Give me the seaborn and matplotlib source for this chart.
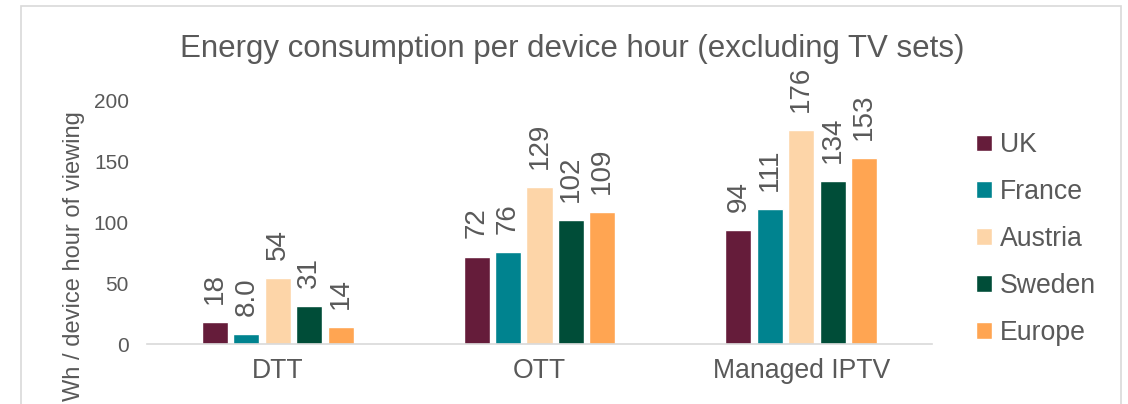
import numpy as np
import pandas as pd
import matplotlib.pyplot as plt
import matplotlib.patches as patches
import seaborn as sns

technologies = ['DTT', 'OTT', 'Managed IPTV']
regions = ['UK', 'France', 'Austria', 'Sweden', 'Europe']
values = {
    'UK':      [18, 72, 94],
    'France':  [8.0, 76, 111],
    'Austria': [54, 129, 176],
    'Sweden':  [31, 102, 134],
    'Europe':  [14, 109, 153],
}
colors = ['#651C3A', '#00838F', '#FDD5A8', '#004D38', '#FFA552']

rows = []
for r in regions:
    for t, v in zip(technologies, values[r]):
        rows.append({'tech': t, 'region': r, 'value': v})
df = pd.DataFrame(rows)

sns.set_style('white')
plt.rcParams['font.family'] = ['Liberation Sans', 'DejaVu Sans']
text_col = '#595959'

fig = plt.figure(figsize=(11.28, 4.04), dpi=100)
ax = fig.add_axes([147 / 1128, 60 / 404, 785 / 1128, 243 / 404])

sns.barplot(data=df, x='tech', y='value', hue='region', palette=colors,
            width=0.6, gap=0.17, saturation=1, ax=ax)

def fmt(v):
    return f'{v:.1f}' if v < 10 else f'{v:.0f}'

for cont in ax.containers:
    ax.bar_label(cont, labels=[fmt(b.get_height()) for b in cont],
                 rotation=90, padding=13, fontsize=20, color=text_col,
                 clip_on=False)

ax.set_ylim(0, 200)
ax.set_xlim(-0.5, 2.5)
ax.set_yticks([0, 50, 100, 150, 200])
sns.despine(ax=ax, left=True, top=True, right=True)
ax.spines['bottom'].set_color('#D9D9D9')
ax.spines['bottom'].set_linewidth(1.2)
ax.tick_params(axis='y', length=0, pad=13, labelsize=15, labelcolor=text_col)
ax.tick_params(axis='x', length=0, pad=10, labelsize=19.2, labelcolor=text_col)
ax.set_xlabel('')
ax.set_ylabel('Wh / device hour of viewing', fontsize=17, color=text_col)
ax.yaxis.set_label_coords(-0.079, 0.36)

fig.suptitle('Energy consumption per device hour (excluding TV sets)',
             x=572 / 1128, y=1 - 49 / 404, va='center', fontsize=22.5,
             color=text_col)

leg = ax.legend(loc='center left', bbox_to_anchor=(976 / 1128, 1 - 239 / 404),
                bbox_transform=fig.transFigure, frameon=False, fontsize=19.2,
                handlelength=0.6, handleheight=0.6, handletextpad=0.3,
                labelspacing=0.78, borderpad=0, borderaxespad=0)
for t in leg.get_texts():
    t.set_color(text_col)

fig.patches.append(patches.Rectangle((21 / 1128, -0.05), (1121 - 21) / 1128,
                                     1.05 - 6 / 404, transform=fig.transFigure,
                                     fill=False, edgecolor='#D9D9D9', lw=1.2))

fig.savefig('out.png', dpi=100)
